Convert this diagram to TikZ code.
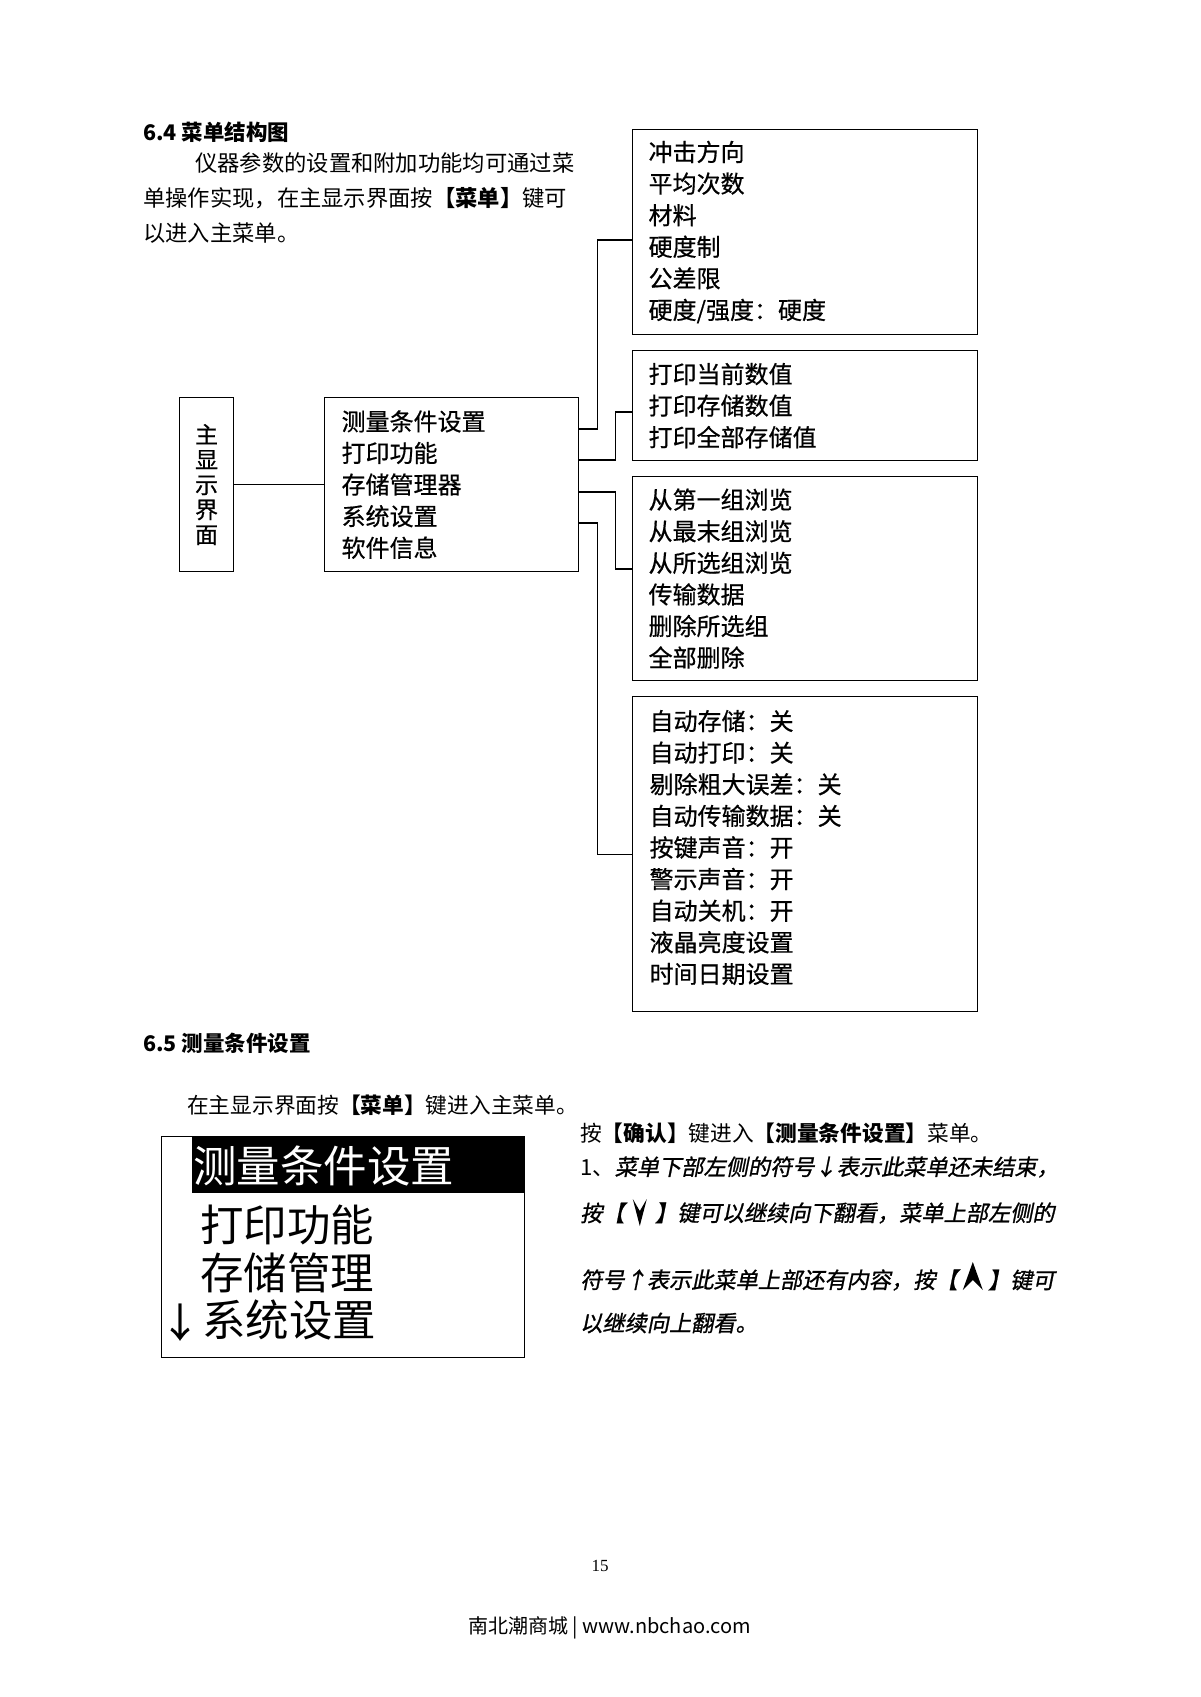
\documentclass[tikz,border=0pt]{standalone}
\usepackage{fontspec}
\setmainfont{Liberation Serif}
\newfontfamily\cjk{Noto Sans CJK SC}
\newfontfamily\cjkm[FakeBold=0.6]{Noto Sans CJK SC}
\newfontfamily\cjkit[FakeSlant=0.2,FakeBold=1.0]{Noto Sans CJK SC}
\tikzset{
  box/.style={draw, line width=1.2pt, inner ysep=0pt, anchor=north west, align=left},
  menufont/.style={font=\cjkm\fontsize{24}{31.6}\selectfont},
  conn/.style={line width=1.2pt},
  txt/.style={inner sep=0pt, anchor=west},
  bodyfont/.style={font=\cjk\fontsize{22.3}{26}\selectfont},
  lcdfont/.style={font=\cjk\fontsize{43.5}{50}\selectfont},
  itfont/.style={font=\cjk\fontsize{22.2}{26}\selectfont},
  keyshape/.style={fill=black},
}
\begin{document}
\begin{tikzpicture}[x=1pt,y=-1pt]
\useasboundingbox (0,0) rectangle (1200,1697);

% ---- 6.4 header and paragraph
\node[txt, font=\cjk\bfseries\fontsize{21.5}{26}\selectfont] (h64) at (143,132) {6.4 菜单结构图};
\node[txt, bodyfont] (p1) at (195,163) {仪器参数的设置和附加功能均可通过菜};
\node[txt, bodyfont] (p2) at (143,198) {单操作实现，在主显示界面按{\bfseries【菜单】}键可};
\node[txt, bodyfont] (p3) at (143,233) {以进入主菜单。};

% ---- menu structure
\node[box, align=center, inner xsep=0pt, minimum width=54pt, minimum height=174pt,
      font=\cjkm\fontsize{23}{25}\selectfont] (zhu) at (179,397) {主\\显\\示\\界\\面};
\node[box, menufont, inner xsep=17pt, text width=220pt, minimum height=174pt] (main) at (324,397)
  {测量条件设置\\打印功能\\存储管理器\\系统设置\\软件信息};
\node[box, menufont, inner xsep=16pt, text width=313pt, minimum height=205pt] (b1) at (632,129)
  {冲击方向\\平均次数\\材料\\硬度制\\公差限\\硬度/强度：硬度};
\node[box, menufont, inner xsep=16pt, text width=313pt, minimum height=110pt] (b2) at (632,350)
  {打印当前数值\\打印存储数值\\打印全部存储值};
\node[box, menufont, inner xsep=16pt, text width=313pt, minimum height=204pt] (b3) at (632,476)
  {从第一组浏览\\从最末组浏览\\从所选组浏览\\传输数据\\删除所选组\\全部删除};
\node[box, menufont, inner xsep=17pt, text width=311pt, minimum height=315pt, text depth=268pt] (b4) at (632,696)
  {自动存储：关\\自动打印：关\\剔除粗大误差：关\\自动传输数据：关\\按键声音：开\\警示声音：开\\自动关机：开\\液晶亮度设置\\时间日期设置};

\draw[conn] (zhu) -- (main);
\draw[conn] ([yshift=-32pt]main.north east) -- ++(18,0) |- ([yshift=-111pt]b1.north west);
\draw[conn] ([yshift=-63pt]main.north east) -- ++(36,0) |- ([yshift=-62pt]b2.north west);
\draw[conn] ([yshift=-95pt]main.north east) -- ++(36,0) |- ([yshift=-93pt]b3.north west);
\draw[conn] ([yshift=-126pt]main.north east) -- ++(18,0) |- (b4.west);

% ---- 6.5
\node[txt, font=\cjk\bfseries\fontsize{21.5}{26}\selectfont] (h65) at (143,1043) {6.5 测量条件设置};
\node[txt, font=\cjk\fontsize{21.7}{26}\selectfont] (q1) at (187,1105) {在主显示界面按{\bfseries【菜单】}键进入主菜单。};

% LCD screen
\node[draw, line width=1.2pt, inner sep=0pt, minimum width=363pt, minimum height=221pt, anchor=north west] (lcd) at (161,1136) {};
\node[fill=black, inner sep=0pt, minimum width=333pt, minimum height=57pt, anchor=north east] (hl) at (lcd.north east) {};
\node[txt, lcdfont, text=white] (l1) at (193,1166) {测量条件设置};
\node[txt, lcdfont] (l2) at (200,1225) {打印功能};
\node[txt, lcdfont] (l3) at (200,1273) {存储管理};
\node[font=\cjkm\fontsize{40}{46}\selectfont, inner sep=0pt] (arr) at (180,1322) {↓};
\node[txt, lcdfont] (l4) at (202,1320) {系统设置};

% right-hand explanation
\node[txt, font=\cjk\fontsize{21.7}{26}\selectfont] (r1) at (580,1133) {按{\bfseries【确认】}键进入{\bfseries【测量条件设置】}菜单。};
\node[txt, itfont] (r2) at (580,1167) {1、{\cjkit 菜单下部左侧的符号↓表示此菜单还未结束，}};
\node[txt, itfont] (r3a) at (580,1213) {\cjkit 按【};
\fill[keyshape, shift={(r3a.east)}] (8,-14) -- (15,13) -- (22,-14) -- (15,-2) -- cycle;
\node[txt, itfont] (r3b) at ([xshift=30pt]r3a.east) {\cjkit 】键可以继续向下翻看，菜单上部左侧的};
\node[txt, itfont] (r4a) at (580,1280) {\cjkit 符号↑表示此菜单上部还有内容，按【};
\fill[keyshape, shift={(r4a.east)}] (15,-18) -- (5,10) -- (15,0) -- (25,10) -- cycle;
\node[txt, itfont] (r4b) at ([xshift=30pt]r4a.east) {\cjkit 】键可};
\node[txt, itfont] (r5) at (580,1323) {\cjkit 以继续向上翻看。};

% page number and footer
\node[font=\fontsize{17}{20}\selectfont, inner sep=0pt] (pg) at (600,1566) {15};
\node[font=\cjk\fontsize{20}{24}\selectfont, inner sep=0pt] (ft) at (609.5,1628) {南北潮商城 | www.nbchao.com};
\end{tikzpicture}
\end{document}
